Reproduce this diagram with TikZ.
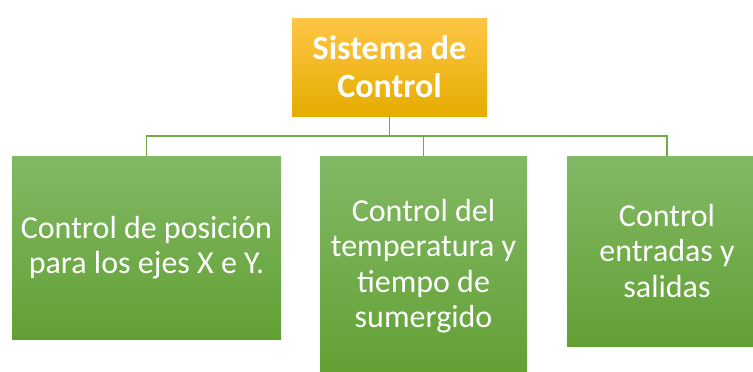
\documentclass[tikz,border=0pt]{standalone}
\usepackage{fontspec}
\setmainfont{Carlito}

\definecolor{oroA}{HTML}{FFC646}
\definecolor{oroB}{HTML}{FFC000}
\definecolor{oroC}{HTML}{E5AC00}
\definecolor{verdeA}{HTML}{82B965}
\definecolor{verdeB}{HTML}{70AD47}
\definecolor{verdeC}{HTML}{62A034}

\begin{document}
\begin{tikzpicture}[x=1pt,y=1pt]
  \tikzstyle{every node}+=[inner sep=0pt]
  \tikzstyle{rootbox}=[rectangle, align=center, text=white,
    top color=oroA, middle color=oroB, bottom color=oroC,
    font=\fontsize{34}{38}\selectfont\bfseries]
  \tikzstyle{leafbox}=[rectangle, align=center, text=white,
    top color=verdeA, middle color=verdeB, bottom color=verdeC,
    font=\fontsize{32}{35.5}\selectfont]
  \tikzstyle{link}=[draw=verdeB, line width=1.3pt]
  \useasboundingbox (0,0) rectangle (753,-372);
  \node [rootbox, minimum width=195, minimum height=98] (sis) at (389.5,-67) {Sistema de\\Control};
  \node [leafbox, minimum width=269, minimum height=183] (pos) at (146.5,-247.5) {Control de posición\\para los ejes X e Y.};
  \node [leafbox, minimum width=207, minimum height=220] (tem) at (423.5,-266) {Control del\\temperatura y\\tiempo de\\sumergido};
  \node [leafbox, minimum width=200, minimum height=190] (io) at (667,-251) {Control\\entradas y\\salidas};
  \coordinate (bus) at (389.5,-136);
  \draw [link] (sis.south) -- (bus);
  \draw [link] (bus) -| (pos.north);
  \draw [link] (bus) -| (tem.north);
  \draw [link] (bus) -| (io.north);
\end{tikzpicture}
\end{document}
